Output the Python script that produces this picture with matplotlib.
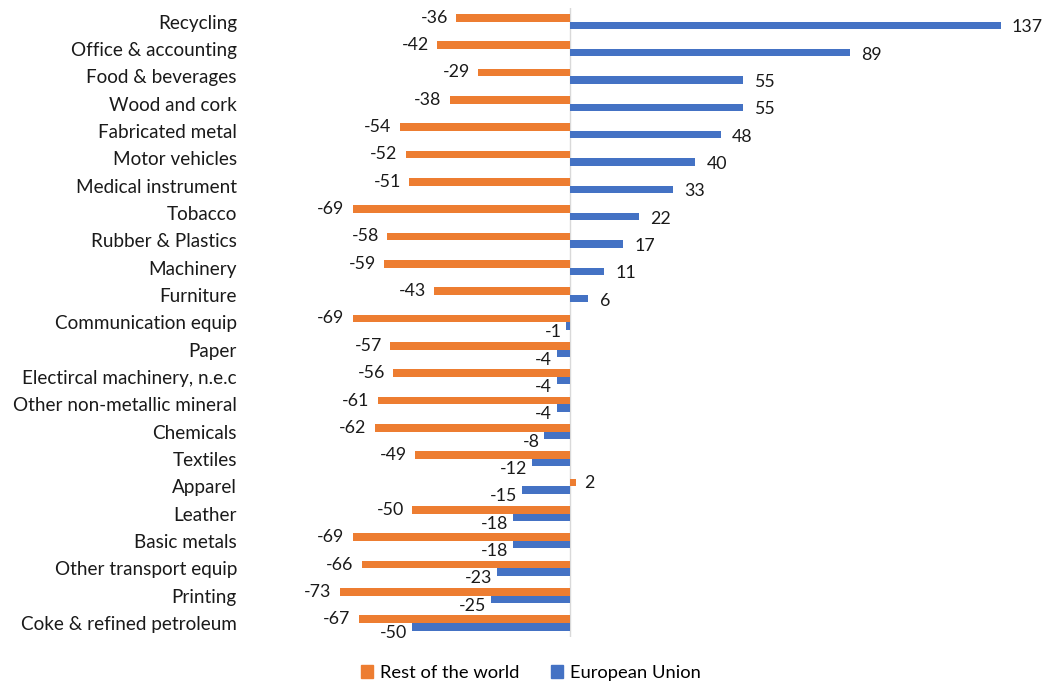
import matplotlib
matplotlib.use("Agg")
import matplotlib.pyplot as plt
from matplotlib.patches import Patch
import numpy as np

categories = ["Recycling", "Office & accounting", "Food & beverages", "Wood and cork",
              "Fabricated metal", "Motor vehicles", "Medical instrument", "Tobacco",
              "Rubber & Plastics", "Machinery", "Furniture", "Communication equip",
              "Paper", "Electircal machinery, n.e.c", "Other non-metallic mineral",
              "Chemicals", "Textiles", "Apparel", "Leather", "Basic metals",
              "Other transport equip", "Printing", "Coke & refined petroleum"]
rest_of_world = [-36, -42, -29, -38, -54, -52, -51, -69, -58, -59, -43, -69,
                 -57, -56, -61, -62, -49, 2, -50, -69, -66, -73, -67]
european_union = [137, 89, 55, 55, 48, 40, 33, 22, 17, 11, 6, -1,
                  -4, -4, -4, -8, -12, -15, -18, -18, -23, -25, -50]

ORANGE = "#ED7D31"
BLUE = "#4472C4"
plt.rcParams['font.family'] = ['Lato', 'DejaVu Sans']
FS = 12.8
FS_CAT = 13.6

W, H = 1045, 683
fig = plt.figure(figsize=(W / 100, H / 100), dpi=100)
# axes: x -100..140 -> px 255..1010 ; y centers 21.5..623
sp = (623 - 21.5) / 22
top_px = 21.5 - sp / 2
bot_px = 623 + sp / 2
ax = fig.add_axes([255 / W, 1 - bot_px / H, (1010 - 255) / W, (bot_px - top_px) / H])

y = np.arange(len(categories))
bh = 0.275
ax.barh(y - bh / 2, rest_of_world, height=bh, color=ORANGE, label="Rest of the world")
ax.barh(y + bh / 2, european_union, height=bh, color=BLUE, label="European Union")

ax.set_xlim(-100, 140)
ax.set_ylim(len(categories) - 0.5, -0.5)
ax.axvline(0, color="#d9d9d9", lw=1, zorder=0.5)

for s in ax.spines.values():
    s.set_visible(False)
ax.set_xticks([])
ax.set_yticks(y)
ax.set_yticklabels(categories, fontsize=FS_CAT, color="#1a1a1a")
ax.tick_params(axis="y", length=0, pad=13)

for i, v in enumerate(rest_of_world):
    off = 6 if v >= 0 else -6
    ax.annotate(f"{v}", (v, i - bh / 2), xytext=(off, 0), textcoords="offset points",
                ha="left" if v >= 0 else "right", va="center", fontsize=FS, color="#1a1a1a")
for i, v in enumerate(european_union):
    if v >= 0:
        ax.annotate(f"{v}", (v, i + bh / 2), xytext=(8, -1.5), textcoords="offset points",
                    ha="left", va="center", fontsize=FS, color="#1a1a1a")
    else:
        ax.annotate(f"{v}", (v, i + bh / 2), xytext=(-3.5, -4.5), textcoords="offset points",
                    ha="right", va="center", fontsize=FS, color="#1a1a1a")

handles = [Patch(color=ORANGE, label="Rest of the world"), Patch(color=BLUE, label="European Union")]
fig.legend(handles=handles, loc="center", bbox_to_anchor=(531 / W, 1 - 673 / H), ncol=2,
           frameon=False, fontsize=13.2, handlelength=0.65, handleheight=0.65,
           handletextpad=0.4, columnspacing=1.7)

fig.savefig("out.png", dpi=100)
